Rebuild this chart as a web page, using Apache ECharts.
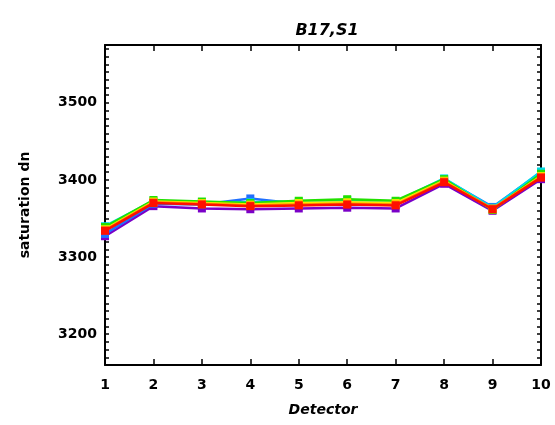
<!DOCTYPE html>
<html><head><meta charset="utf-8">
<script src="https://cdn.jsdelivr.net/npm/echarts@6/dist/echarts.min.js"></script>
<style>html,body{margin:0;padding:0;background:#fff}#c{width:555px;height:425px}</style>
</head><body><div id="c"></div>
<script>
const detectors = [1,2,3,4,5,6,7,8,9,10];
const seriesNames = ['s0','s1','s2','s3','s4','s5','s6'];
const seriesColors = ['#7a00c8','#1f6fff','#00d8e8','#22e000','#ffe600','#ff8a00','#ff1000'];
const vPurple = [3327,3366,3363,3362,3363,3364,3363,3395,3360,3401];
const vBlue   = [3330,3369,3368,3376,3369,3371,3368,3401,3365,3410];
const vCyan   = [3340,3373,3371,3371,3372,3374,3372,3402,3364,3411];
const vGreen  = [3339,3374,3372,3370,3373,3375,3373,3401,3361,3408];
const vYellow = [3336,3372,3370,3368,3370,3371,3370,3399,3362,3405];
const vOrange = [3335,3371,3369,3367,3368,3369,3368,3398,3363,3404];
const vRed    = [3334,3370,3368,3366,3367,3368,3367,3397,3362,3403];
const allValues = [vPurple,vBlue,vCyan,vGreen,vYellow,vOrange,vRed];
const yMin = 3160, yMax = 3575;

const chart = echarts.init(document.getElementById('c'), null, {renderer:'canvas'});
const font = 'DejaVu Sans';
const series = allValues.map((vals,i)=>({
  name: seriesNames[i], type:'line',
  data: detectors.map((d,j)=>[d, vals[j]]),
  symbol:'rect', symbolSize:8, showSymbol:true,
  itemStyle:{color:seriesColors[i]},
  lineStyle:{color:seriesColors[i], width:2.5},
  z: 2+i, animation:false
}));
chart.setOption({
  backgroundColor:'#fff',
  animation:false,
  title:{text:'B17,S1', left:322, top:18, textAlign:'center',
    textStyle:{fontFamily:font, fontSize:16, fontWeight:'bold', fontStyle:'italic', color:'#000'}},
  grid:{left:105, right:14, top:45, bottom:60},
  xAxis:[{type:'value', min:1, max:10, interval:1, position:'bottom',
    name:'Detector', nameLocation:'middle', nameGap:38,
    nameTextStyle:{fontFamily:font, fontSize:14, fontWeight:'bold', fontStyle:'italic', color:'#000'},
    axisLine:{lineStyle:{color:'#000', width:2}},
    axisTick:{inside:true, length:6, lineStyle:{color:'#000', width:1.5}},
    axisLabel:{fontFamily:font, fontSize:14, fontWeight:'bold', color:'#000', margin:13},
    splitLine:{show:false}},
   {type:'value', min:1, max:10, interval:1, position:'top',
    axisLine:{lineStyle:{color:'#000', width:2}},
    axisTick:{inside:true, length:6, lineStyle:{color:'#000', width:1.5}},
    axisLabel:{show:false}, splitLine:{show:false}}],
  yAxis:[{type:'value', min:yMin, max:yMax, interval:10, position:'left',
    name:'saturation dn', nameLocation:'middle', nameGap:73, nameRotate:90,
    nameTextStyle:{fontFamily:font, fontSize:14, fontWeight:'bold', color:'#000'},
    axisLine:{lineStyle:{color:'#000', width:2}},
    axisTick:{inside:true, length:4, lineStyle:{color:'#000', width:1.5}},
    axisLabel:{fontFamily:font, fontSize:14, fontWeight:'bold', color:'#000', margin:8,
      formatter:v=> (v%100===0 ? String(v) : '')},
    splitLine:{show:false}},
   {type:'value', min:yMin, max:yMax, interval:10, position:'right',
    axisLine:{lineStyle:{color:'#000', width:2}},
    axisTick:{inside:true, length:4, lineStyle:{color:'#000', width:1.5}},
    axisLabel:{show:false}, splitLine:{show:false}}],
  series: series
});
</script></body></html>
